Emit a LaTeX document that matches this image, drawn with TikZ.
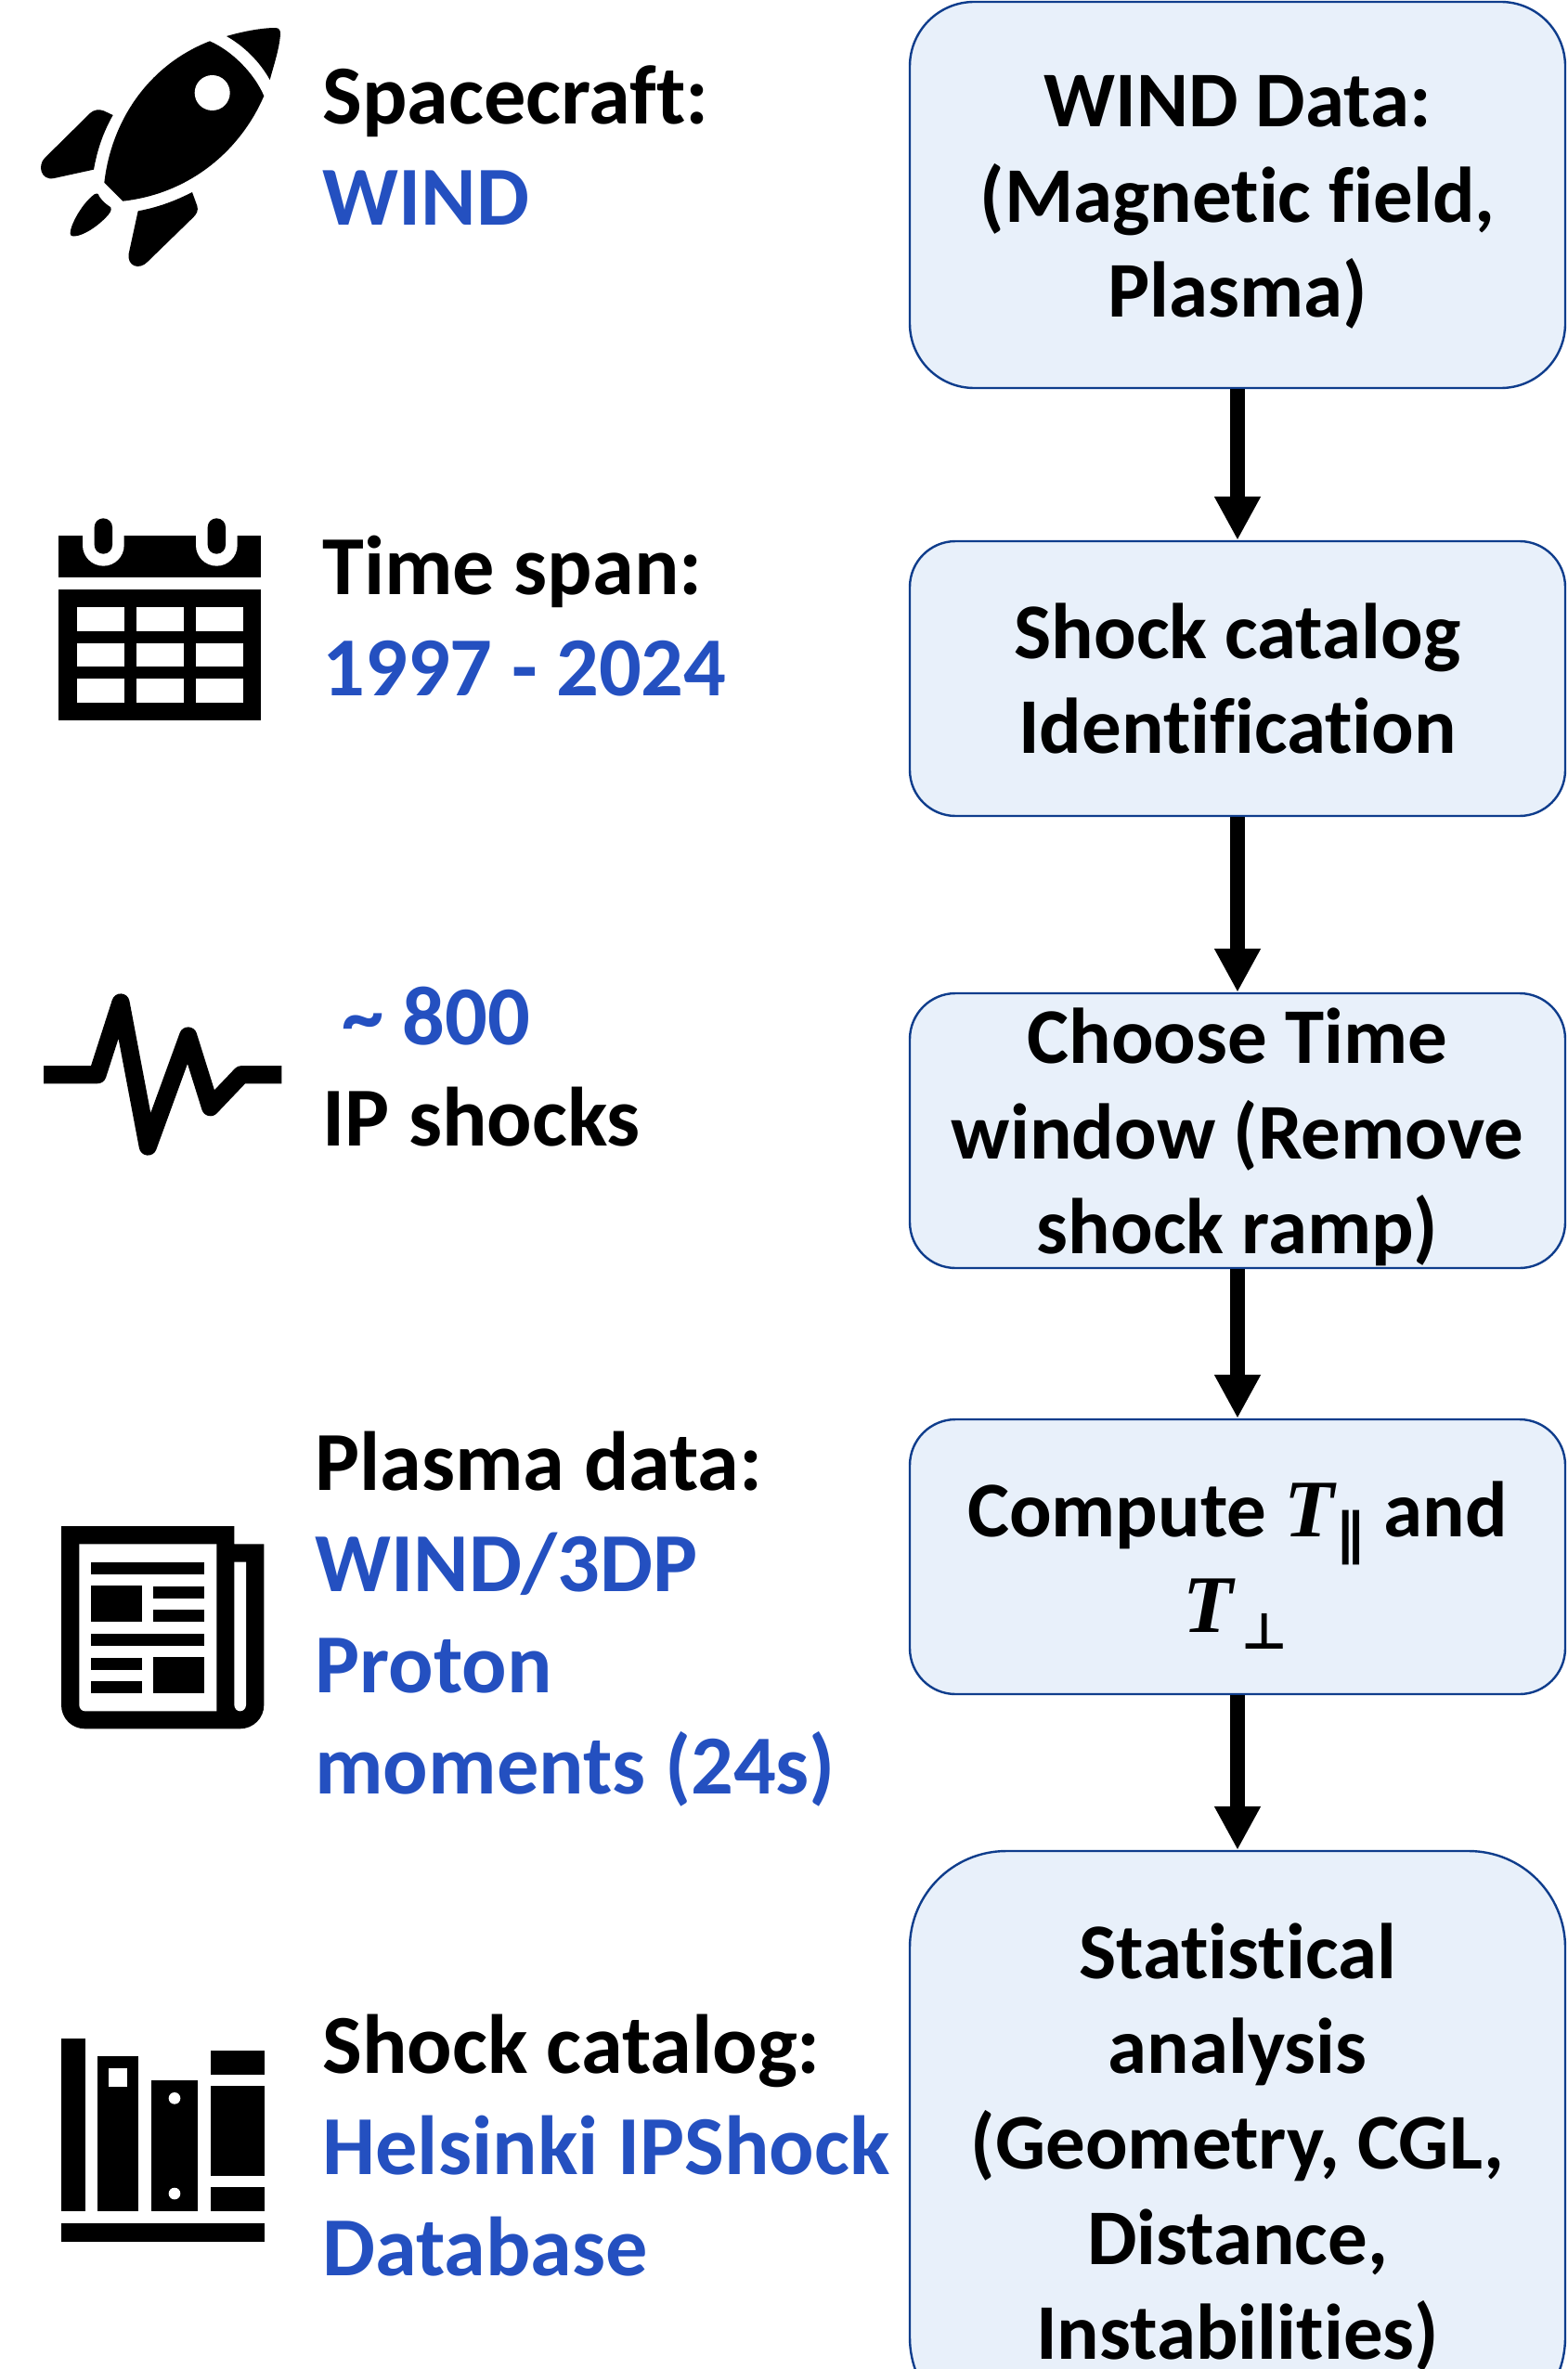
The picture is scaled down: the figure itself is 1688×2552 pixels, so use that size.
\documentclass[tikz,border=0pt]{standalone}
\usepackage{fontspec}
\setmainfont[Ligatures=NoCommon]{Carlito}
\newfontfamily\serifmath{Liberation Serif}
\newfontfamily\symbfont{DejaVu Sans}
\usetikzlibrary{arrows.meta}
\definecolor{boxfill}{HTML}{E8F0FA}
\definecolor{boxline}{HTML}{0F3D8C}
\definecolor{labelblue}{HTML}{2450C0}
\newcommand{\mathT}{{\serifmath\bfseries\itshape\fontsize{44}{44}\selectfont T}}
\tikzset{
  flowbox/.style={draw=boxline,fill=boxfill,line width=1.2pt,minimum width=353pt,inner sep=0pt},
  flowtext/.style={inner sep=0pt,align=center,font=\fontsize{42.5}{51.3}\selectfont\bfseries},
  sidelabel/.style={anchor=west,inner sep=0pt,align=left,font=\fontsize{45.2}{54.5}\selectfont\bfseries},
  flowarrow/.style={line width=8.2pt,-{Triangle[width=23.5pt,length=23.5pt]}},
  iconscope/.style={x=0.16667pt,y=-0.16667pt}
}
\begin{document}
\begin{tikzpicture}[x=0.5pt,y=-0.5pt]
\useasboundingbox (0,0) rectangle (1688,2552);
\clip (0,0) rectangle (1688,2552);

% flow boxes
\node[flowbox,minimum height=208pt,rounded corners=34.7pt] (b1) at (1333,210) {};
\node[flowbox,minimum height=148pt,rounded corners=24.7pt] (b2) at (1333,731) {};
\node[flowbox,minimum height=148pt,rounded corners=24.7pt] (b3) at (1333,1218) {};
\node[flowbox,minimum height=148pt,rounded corners=24.7pt] (b4) at (1333,1677) {};
\node[flowbox,minimum height=314pt,rounded corners=52pt] (b5) at (1333,2308) {};
\node[flowtext] (t1) at (1333,218) {WIND Data:\\(Magnetic field,\\Plasma)};
\node[flowtext] (t2) at (1333,731) {Shock catalog\\Identification};
\node[flowtext] (t3) at (1333,1225) {Choose Time\\window (Remove\\shock ramp)};
\node[flowtext] (t4) at (1333,1686) {Compute \mathT\hspace{1pt}\raisebox{-9pt}{\fontsize{30}{30}\selectfont\symbfont ∥}\hspace{1pt} and\\\hspace{-2pt}\mathT\raisebox{-9pt}{\fontsize{27}{27}\selectfont\symbfont\,⊥}};
\node[flowtext] (t5) at (1333,2313) {Statistical\\analysis\\(Geometry, CGL,\\Distance,\\Instabilities)};
\draw[flowarrow] (b1) -- (b2);
\draw[flowarrow] (b2) -- (b3);
\draw[flowarrow] (b3) -- (b4);
\draw[flowarrow] (b4) -- (b5);

% side labels
\node[sidelabel] (l1) at (347,157) {Spacecraft:\\\textcolor{labelblue}{WIND}};
\node[sidelabel] (l2) at (347,664) {Time span:\\\textcolor{labelblue}{1997 - 2024}};
\node[sidelabel] (l3) at (347,1149) {\hspace*{10.5pt}\textcolor{labelblue}{\textasciitilde{} 800}\\IP shocks};
\node[sidelabel] (l4) at (339,1744) {Plasma data:\\\textcolor{labelblue}{WIND/3DP}\\\textcolor{labelblue}{Proton}\\\textcolor{labelblue}{moments (24s)}};
\node[sidelabel] (l5) at (347,2311) {Shock catalog:\\\textcolor{labelblue}{Helsinki IPShock}\\\textcolor{labelblue}{Database}};

% rocket
\begin{scope}[shift={(20,0)},iconscope]
\fill (618,133) .. controls (690,165) and (760,235) .. (793,310) .. controls (720,480) and (560,625) .. (337,650) -- (277,590) .. controls (300,390) and (420,210) .. (618,133) -- cycle;
\fill (672,117) .. controls (730,100) and (790,90) .. (830,90) .. controls (843,90) and (847,100) .. (846,112) .. controls (842,160) and (825,210) .. (812,258) .. controls (780,200) and (730,150) .. (672,117) -- cycle;
\fill[white] (626,300) circle[radius=57];
\fill (305,372) -- (275,358) .. controls (260,352) and (243,355) .. (232,365) -- (85,510) .. controls (60,535) and (72,585) .. (115,576) -- (243,548) .. controls (255,480) and (275,425) .. (305,372) -- cycle;
\fill (561,621) -- (577,665) .. controls (582,680) and (575,692) .. (565,702) -- (418,845) .. controls (390,875) and (350,860) .. (356,820) -- (386,682) .. controls (450,670) and (505,650) .. (561,621) -- cycle;
\fill (257,627) .. controls (262,640) and (275,655) .. (298,670) .. controls (302,680) and (295,690) .. (280,705) .. controls (240,745) and (190,770) .. (170,762) .. controls (155,750) and (200,660) .. (245,628) .. controls (250,625) and (255,625) .. (257,627) -- cycle;
\end{scope}

% calendar
\begin{scope}[shift={(40,540)},iconscope]
\fill (70,112) rectangle (723,246);
\foreach \cx in {214,580} {
  \fill[white] (\cx-67,100) -- (\cx-67,142) .. controls (\cx-67,179) and (\cx-37,209) .. (\cx,209) .. controls (\cx+37,209) and (\cx+67,179) .. (\cx+67,142) -- (\cx+67,100) -- cycle;
  \fill[rounded corners=4.8pt] (\cx-29,55) rectangle (\cx+29,170);
}
\fill (70,285) rectangle (723,708);
\foreach \cx in {128,320,512}
  \foreach \cy in {343,459,574}
    \fill[white] (\cx,\cy) rectangle (\cx+153,\cy+76);
\end{scope}

% pulse
\begin{scope}[shift={(30,1050)},iconscope]
\draw[line width=9.6pt,line join=round,line cap=butt] (51,323) -- (225,323) -- (300,90) -- (388,555) -- (518,198) -- (590,428) -- (690,323) -- (820,323);
\end{scope}

% newspaper
\begin{scope}[shift={(50,1630)},iconscope]
\fill (48,42) -- (607,42) -- (607,100) -- (703,100) -- (703,620) .. controls (703,663) and (668,697) .. (625,697) -- (125,697) .. controls (82,697) and (48,663) .. (48,620) -- cycle;
\fill[white] (106,100) -- (550,100) -- (550,640) -- (125,640) .. controls (114,640) and (106,631) .. (106,620) -- cycle;
\fill[white] (607,158) -- (645,158) -- (645,620) .. controls (645,631) and (636,640) .. (626,640) .. controls (616,640) and (607,631) .. (607,620) -- cycle;
\fill (144,158) rectangle (510,197);
\fill (144,234) rectangle (309,350);
\fill (345,237) rectangle (510,275);
\fill (345,312) rectangle (510,350);
\fill (144,390) rectangle (510,428);
\fill (144,468) rectangle (309,506);
\fill (345,465) rectangle (510,581);
\fill (144,543) rectangle (309,581);
\end{scope}

% books
\begin{scope}[shift={(50,2180)},iconscope]
\fill (48,48) rectangle (126,606);
\fill (164,106) rectangle (298,606);
\fill[white] (202,145) rectangle (260,203);
\fill (338,184) rectangle (490,606);
\fill[white] (414,241) circle[radius=19];
\fill[white] (414,549) circle[radius=19];
\fill (531,87) rectangle (705,165);
\fill (531,201) rectangle (705,491);
\fill (531,528) rectangle (705,606);
\fill (48,645) rectangle (705,705);
\end{scope}
\end{tikzpicture}
\end{document}
